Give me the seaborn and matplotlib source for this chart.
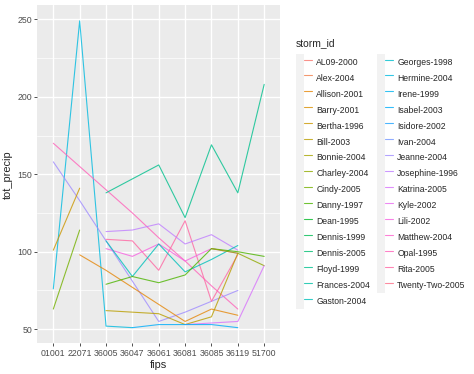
import numpy as np
import pandas as pd
import seaborn as sns
import matplotlib.pyplot as plt
from matplotlib.lines import Line2D
from matplotlib.patches import Patch
from matplotlib.legend_handler import HandlerTuple

fips = ['01001', '22071', '36005', '36047', '36061', '36081', '36085', '36119', '51700']

storm_id = ['AL09-2000', 'Alex-2004', 'Allison-2001', 'Barry-2001', 'Bertha-1996',
            'Bill-2003', 'Bonnie-2004', 'Charley-2004', 'Cindy-2005', 'Danny-1997',
            'Dean-1995', 'Dennis-1999', 'Dennis-2005', 'Floyd-1999', 'Frances-2004',
            'Gaston-2004', 'Georges-1998', 'Hermine-2004', 'Irene-1999', 'Isabel-2003',
            'Isidore-2002', 'Ivan-2004', 'Jeanne-2004', 'Josephine-1996', 'Katrina-2005',
            'Kyle-2002', 'Lili-2002', 'Matthew-2004', 'Opal-1995', 'Rita-2005',
            'Twenty-Two-2005']

# tot_precip per fips (None = storm not recorded for that county)
hermine = [76, 249, 52, 51, None, None, None, None, None]
opal = [170, 155, 140, 125, 109, 94, 78, 63, None]
jeanne = [158, 133, 107, 81, 55, 61, 68, 75, None]
bertha = [101, 141, None, None, None, None, None, None, None]
cindy = [63, 114, None, None, None, None, None, None, None]
allison = [None, 98, 88, 77, 66, 55, 63, 59, None]
floyd = [None, None, 138, 147, 156, 122, 169, 138, 208]
rita = [None, None, 108, 107, 88, 120, 68, 98, None]
josephine = [None, None, 113, 114, 118, 105, 111, 101, None]
lili = [None, None, 102, 97, 105, 94, 102, 99, None]
gaston = [None, None, 107, 84, 105, 87, 95, 104, None]
danny = [None, None, 79, 84, 80, 85, 102, 100, 97]
charley = [None, None, None, None, None, None, 102, 99, 91]
bill = [None, None, 62, 61, 60, 53, 58, 99, None]
katrina = [None, None, None, None, None, 53, 54, 55, 91]
isabel = [None, None, None, 51, 53, 53, 53, 51, None]

series = {'Hermine-2004': hermine, 'Opal-1995': opal, 'Jeanne-2004': jeanne,
          'Bertha-1996': bertha, 'Cindy-2005': cindy, 'Allison-2001': allison,
          'Floyd-1999': floyd, 'Rita-2005': rita, 'Josephine-1996': josephine,
          'Lili-2002': lili, 'Gaston-2004': gaston, 'Danny-1997': danny,
          'Charley-2004': charley, 'Bill-2003': bill, 'Katrina-2005': katrina,
          'Isabel-2003': isabel}


def hcl(h, c=100, l=65):
    # polar CIELUV -> sRGB, like R's hcl()
    hr = np.deg2rad(h)
    u, v = c*np.cos(hr), c*np.sin(hr)
    Xn, Yn, Zn = 95.047, 100.0, 108.883
    un = 4*Xn/(Xn + 15*Yn + 3*Zn)
    vn = 9*Yn/(Xn + 15*Yn + 3*Zn)
    Y = Yn*((l + 16)/116)**3
    up = u/(13*l) + un
    vp = v/(13*l) + vn
    X = Y*9*up/(4*vp)
    Z = Y*(12 - 3*up - 20*vp)/(4*vp)
    X, Y, Z = X/100, Y/100, Z/100
    rgb = [3.2404542*X - 1.5371385*Y - 0.4985314*Z,
           -0.9692660*X + 1.8760108*Y + 0.0415560*Z,
           0.0556434*X - 0.2040259*Y + 1.0572252*Z]
    out = []
    for ch in rgb:
        ch = 12.92*ch if ch <= 0.0031308 else 1.055*ch**(1/2.4) - 0.055
        out.append(min(max(ch, 0), 1))
    return tuple(out)


n = len(storm_id)
pal = {s: hcl(15 + i*360/n) for i, s in enumerate(storm_id)}

rows = []
for s, vals in series.items():
    for i, v in enumerate(vals):
        if v is not None:
            rows.append({'storm_id': s, 'pos': i, 'tot_precip': v})
df = pd.DataFrame(rows)

sns.set_theme(style='darkgrid')
plt.rcParams['font.family'] = ['Liberation Sans', 'DejaVu Sans']
plt.rcParams['axes.facecolor'] = '#EBEBEB'
plt.rcParams['grid.color'] = 'white'

fig = plt.figure(figsize=(4.74, 3.74), dpi=100)
ax = fig.add_axes([0.0791, 0.0829, 0.5116, 0.9024])

sns.lineplot(data=df, x='pos', y='tot_precip', hue='storm_id', palette=pal,
             estimator=None, sort=True, linewidth=0.8, alpha=0.8, legend=False, ax=ax)

ax.set_xlim(-0.6, len(fips) - 0.4)
lo, hi = df['tot_precip'].min(), df['tot_precip'].max()
pad = (hi - lo)*0.05
ax.set_ylim(lo - pad, hi + pad)
ax.set_xticks(range(len(fips)), fips)
ax.set_yticks([50, 100, 150, 200, 250])
ax.set_yticks([75, 125, 175, 225], minor=True)
ax.grid(True, which='major', color='white', linewidth=1.0)
ax.grid(True, which='minor', axis='y', color='white', linewidth=0.5)
ax.tick_params(axis='both', which='major', labelsize=6.3, labelcolor='#4D4D4D',
               length=2.5, width=0.6, color='#333333', pad=1.5, bottom=True, left=True)
ax.tick_params(axis='both', which='minor', length=0)
for sp in ax.spines.values():
    sp.set_visible(False)
ax.set_xlabel('fips', fontsize=7.9, labelpad=2)
ax.set_ylabel('tot_precip', fontsize=7.9, labelpad=3)

handles = [(Patch(facecolor='#F2F2F2', edgecolor='none'),
            Line2D([], [], color=pal[s], lw=0.8, alpha=0.8))
           for s in storm_id]
leg = fig.legend(handles, storm_id, title='storm_id', ncol=2, frameon=False,
                 loc='upper left', bbox_to_anchor=(296/474, 1 - 38/374),
                 fontsize=6.2, title_fontsize=7.4, alignment='left',
                 handler_map={tuple: HandlerTuple(ndivide=None, pad=0)},
                 handlelength=1.85, handleheight=2.47, labelspacing=0,
                 handletextpad=0.5, columnspacing=0.8, borderpad=0, borderaxespad=0)
leg._legend_box.sep = 4.5  # gap between title and keys

plt.savefig('out.png', dpi=100)
